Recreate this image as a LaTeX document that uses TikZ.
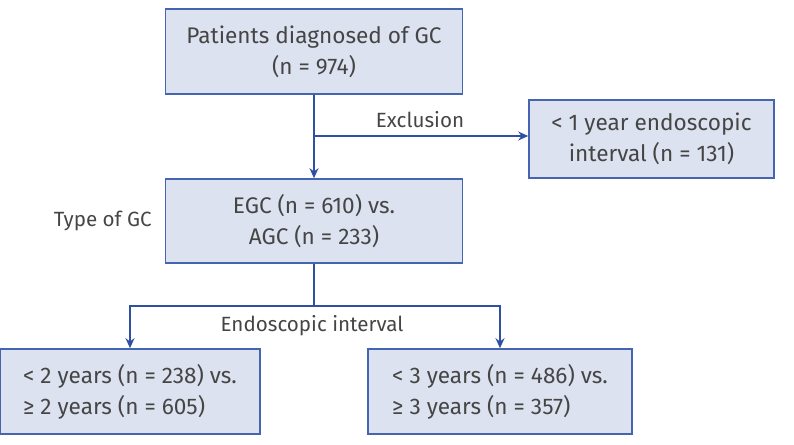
\documentclass[tikz,border=0pt]{standalone}
\usepackage{fontspec}
\setmainfont{Fira Sans}
\usetikzlibrary{positioning, arrows.meta, calc}
\definecolor{boxfill}{HTML}{DCE2EF}
\definecolor{boxline}{HTML}{4565B0}
\definecolor{flowblue}{HTML}{2F4FA2}
\definecolor{txtgray}{HTML}{454545}
\tikzset{
  box/.style  = {rectangle, draw=boxline, line width=0.8pt, fill=boxfill,
                 align=center, font=\fontsize{11.3}{15.5}\selectfont,
                 text=txtgray, inner sep=2pt},
  lab/.style  = {font=\fontsize{10.3}{12}\selectfont, text=txtgray, align=center},
  flow/.style = {line width=0.8pt, -{Stealth[length=5pt, width=4.5pt]}, draw=flowblue},
  link/.style = {line width=0.8pt, draw=flowblue},
}
\begin{document}
\begin{tikzpicture}[x=0.5pt, y=-0.5pt]
\useasboundingbox (0,0) rectangle (794,445);

% Top row: all patients and the excluded group
\node (pat) [box, minimum width=148.5pt, minimum height=42.5pt] at (314,51.5)
  {Patients diagnosed of GC\\(n = 974)};
\node (excl) [box, minimum width=122.5pt, minimum height=39pt] at (651.5,139)
  {< 1 year endoscopic\\interval (n = 131)};

% Middle: type of GC
\node (type) [box, minimum width=148.5pt, minimum height=42pt] at (314,221)
  {EGC (n = 610) vs.\\AGC (n = 233)};
\node (typelab) [lab, left=3pt of type] {Type of GC};

% Bottom row: the two interval splits
\node (lt2) [box, minimum width=130pt, minimum height=42.5pt, align=left] at (130,391.5)
  {< 2 years (n = 238) vs.\\≥ 2 years (n = 605)};
\node (lt3) [box, minimum width=132pt, minimum height=42.5pt, align=left] at (500,391.5)
  {< 3 years (n = 486) vs.\\≥ 3 years (n = 357)};

\coordinate (br) at (314,136);
\coordinate (split) at (314,306);

\draw [flow] (pat) -- (type);
\draw [flow] (br) -- (br -| excl.west);
\node (excllab) [lab] at (420,120) {Exclusion};

\draw [link] (type) -- (split);
\draw [flow] (split) -| (lt2.north);
\draw [flow] (split) -| (lt3.north);
\node (intlab) [lab] at (312,326) {Endoscopic interval};

\end{tikzpicture}
\end{document}
